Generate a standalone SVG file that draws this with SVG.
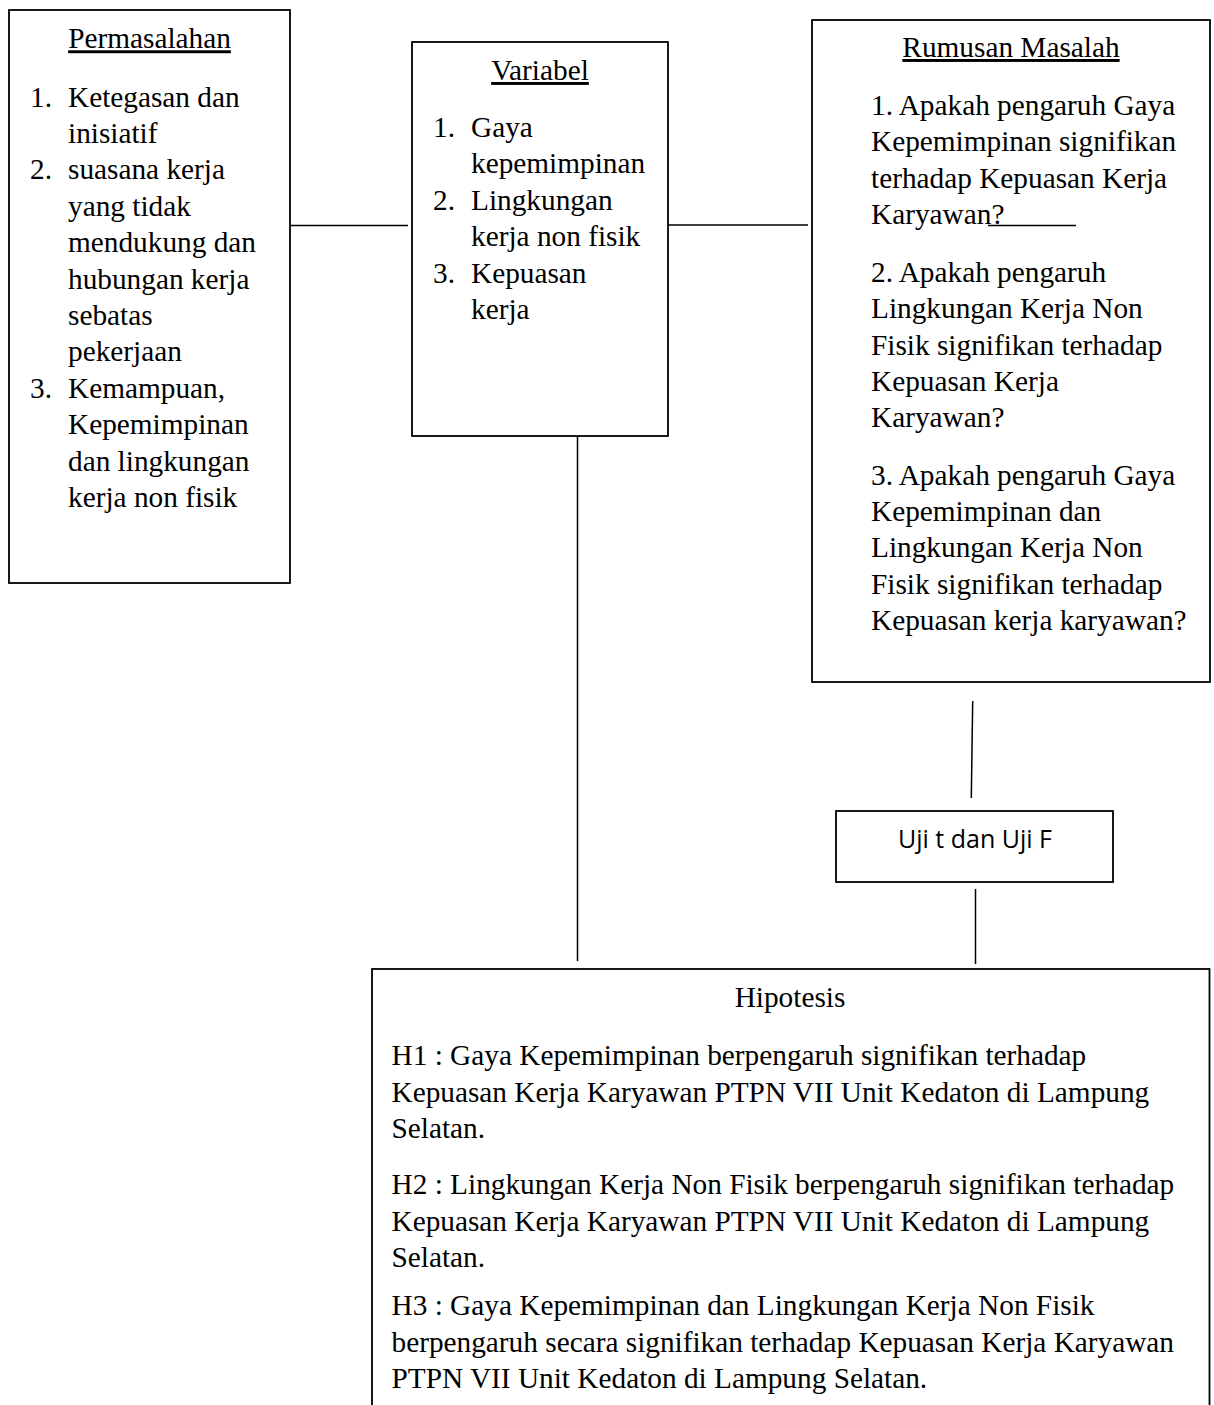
<svg xmlns="http://www.w3.org/2000/svg" width="1214" height="1405" viewBox="0 0 1214 1405">
<style>
.box{fill:#fff;stroke:#000;stroke-width:1.8}
.ln{stroke:#000;stroke-width:1.5;fill:none}
.t{font-family:"Liberation Serif","Times New Roman",serif;font-size:29.3px;fill:#000}
.c{text-anchor:middle}
.u{text-decoration:underline}
.s{font-family:"Open Sans","Liberation Sans",sans-serif;font-size:25px;fill:#000;text-anchor:middle}
</style>
<rect width="1214" height="1405" fill="#fff"/>
<g id="connectors">
<line class="ln" x1="287" y1="225.5" x2="408" y2="225.5"/>
<line class="ln" x1="668" y1="225" x2="808" y2="225"/>
<line class="ln" x1="577.5" y1="436" x2="577.5" y2="961"/>
<line class="ln" x1="972.7" y1="701" x2="971.3" y2="798"/>
<line class="ln" x1="975.5" y1="889" x2="975.5" y2="964"/>
</g>
<g id="permasalahan">
<rect class="box" x="9" y="10" width="281" height="573"/>
<text class="t c u" x="149.5" y="48.3">Permasalahan</text>
<text class="t" x="30" y="106.5">1.</text>
<text class="t" x="68" y="106.5">Ketegasan dan</text>
<text class="t" x="68" y="142.9">inisiatif</text>
<text class="t" x="30" y="179.3">2.</text>
<text class="t" x="68" y="179.3">suasana kerja</text>
<text class="t" x="68" y="215.7">yang tidak</text>
<text class="t" x="68" y="252.1">mendukung dan</text>
<text class="t" x="68" y="288.5">hubungan kerja</text>
<text class="t" x="68" y="324.9">sebatas</text>
<text class="t" x="68" y="361.3">pekerjaan</text>
<text class="t" x="30" y="397.7">3.</text>
<text class="t" x="68" y="397.7">Kemampuan,</text>
<text class="t" x="68" y="434.1">Kepemimpinan</text>
<text class="t" x="68" y="470.5">dan lingkungan</text>
<text class="t" x="68" y="506.9">kerja non fisik</text>
</g>
<g id="variabel">
<rect class="box" x="412" y="42" width="256" height="394"/>
<text class="t c u" x="540" y="80">Variabel</text>
<text class="t" x="433" y="137">1.</text>
<text class="t" x="471" y="137">Gaya</text>
<text class="t" x="471" y="173.4">kepemimpinan</text>
<text class="t" x="433" y="209.8">2.</text>
<text class="t" x="471" y="209.8">Lingkungan</text>
<text class="t" x="471" y="246.2">kerja non fisik</text>
<text class="t" x="433" y="282.6">3.</text>
<text class="t" x="471" y="282.6">Kepuasan</text>
<text class="t" x="471" y="319">kerja</text>
</g>
<g id="rumusan">
<rect class="box" x="812" y="20" width="398" height="662"/>
<text class="t c u" x="1011" y="57">Rumusan Masalah</text>
<text class="t" x="871" y="115">1. Apakah pengaruh Gaya</text>
<text class="t" x="871" y="151.4">Kepemimpinan signifikan</text>
<text class="t" x="871" y="187.8">terhadap Kepuasan Kerja</text>
<text class="t" x="871" y="223.5">Karyawan?</text>
<line class="ln" x1="988" y1="225.5" x2="1076" y2="225.5" stroke-width="1.4"/>
<text class="t" x="871" y="281.7">2. Apakah pengaruh</text>
<text class="t" x="871" y="318.2">Lingkungan Kerja Non</text>
<text class="t" x="871" y="354.7">Fisik signifikan terhadap</text>
<text class="t" x="871" y="391.2">Kepuasan Kerja</text>
<text class="t" x="871" y="427.2">Karyawan?</text>
<text class="t" x="871" y="485">3. Apakah pengaruh Gaya</text>
<text class="t" x="871" y="521">Kepemimpinan dan</text>
<text class="t" x="871" y="557">Lingkungan Kerja Non</text>
<text class="t" x="871" y="593.5">Fisik signifikan terhadap</text>
<text class="t" x="871" y="630">Kepuasan kerja karyawan?</text>
</g>
<g id="uji">
<rect class="box" x="836" y="811" width="277" height="71"/>
<text class="s" x="975" y="848">Uji t dan Uji F</text>
</g>
<g id="hipotesis">
<rect class="box" x="372" y="969" width="837.5" height="460"/>
<text class="t c" x="790" y="1007">Hipotesis</text>
<text class="t" x="391.5" y="1065">H1 : Gaya Kepemimpinan berpengaruh signifikan terhadap</text>
<text class="t" x="391.5" y="1101.5">Kepuasan Kerja Karyawan PTPN VII Unit Kedaton di Lampung</text>
<text class="t" x="391.5" y="1138">Selatan.</text>
<text class="t" x="391.5" y="1194">H2 : Lingkungan Kerja Non Fisik berpengaruh signifikan terhadap</text>
<text class="t" x="391.5" y="1230.5">Kepuasan Kerja Karyawan PTPN VII Unit Kedaton di Lampung</text>
<text class="t" x="391.5" y="1267">Selatan.</text>
<text class="t" x="391.5" y="1315">H3 : Gaya Kepemimpinan dan Lingkungan Kerja Non Fisik</text>
<text class="t" x="391.5" y="1351.5">berpengaruh secara signifikan terhadap Kepuasan Kerja Karyawan</text>
<text class="t" x="391.5" y="1388">PTPN VII Unit Kedaton di Lampung Selatan.</text>
</g>
</svg>
